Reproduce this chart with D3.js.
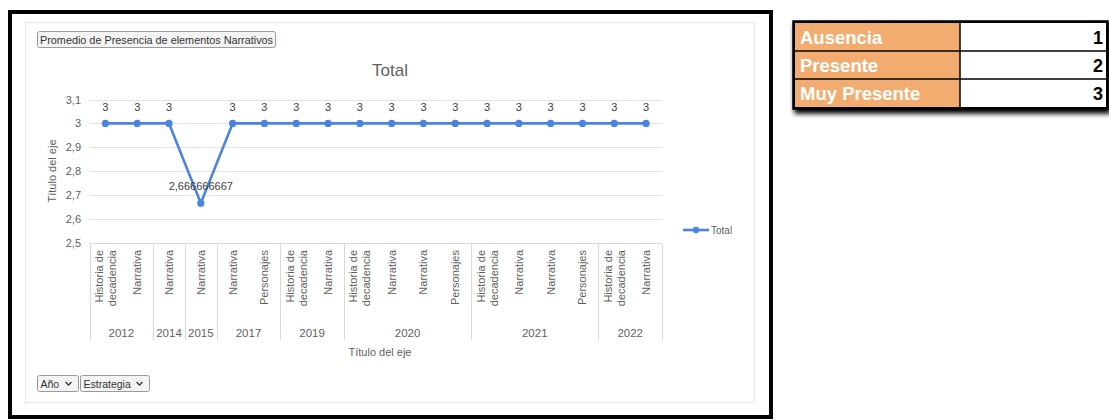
<!DOCTYPE html>
<html>
<head>
<meta charset="utf-8">
<script src="https://cdn.jsdelivr.net/npm/d3@7"></script>
<style>
  html, body { margin: 0; padding: 0; background: #fff; }
  svg { display: block; font-family: "Liberation Sans", Arial, sans-serif; }
</style>
</head>
<body>
<svg id="chart" width="1109" height="420"></svg>
<script>
// ---- data ----
const years = ["2012","2012","2014","2015","2017","2017","2019","2019","2020","2020","2020","2020","2021","2021","2021","2021","2022","2022"];
const categories = ["Historia de decadencia","Narrativa","Narrativa","Narrativa","Narrativa","Personajes","Historia de decadencia","Narrativa","Historia de decadencia","Narrativa","Narrativa","Personajes","Historia de decadencia","Narrativa","Narrativa","Personajes","Historia de decadencia","Narrativa"];
const values = [3,3,3,2.666666667,3,3,3,3,3,3,3,3,3,3,3,3,3,3];
const valueLabels = ["3","3","3","2,666666667","3","3","3","3","3","3","3","3","3","3","3","3","3","3"];
const yTicks = [2.5,2.6,2.7,2.8,2.9,3,3.1];
const yTickLabels = ["2,5","2,6","2,7","2,8","2,9","3","3,1"];
const chartTitle = "Total";
const axisTitleX = "Título del eje";
const axisTitleY = "Título del eje";
const seriesName = "Total";
const pivotField = "Promedio de Presencia de elementos Narrativos";
const filterFields = ["Año","Estrategia"];
const tableLabels = ["Ausencia","Presente","Muy Presente"];
const tableValues = [1,2,3];

// ---- drawing ----
const svg = d3.select("#chart");
const blue = "#4a83e6";
const gray = "#5f5f5f";
const grid = "#e3e3e3";

// outer black frame
svg.append("rect").attr("x", 10).attr("y", 12).attr("width", 761).attr("height", 405)
  .attr("fill", "#fff").attr("stroke", "#000").attr("stroke-width", 4);
// inner chart area
svg.append("rect").attr("x", 25.5).attr("y", 22.5).attr("width", 729).attr("height", 380)
  .attr("fill", "#fff").attr("stroke", "#e6e6e6").attr("stroke-width", 1);

// pivot field button
const btn = svg.append("g");
btn.append("rect").attr("x", 37.5).attr("y", 31.5).attr("width", 238).attr("height", 16).attr("rx", 2)
  .attr("fill", "#f4f4f4").attr("stroke", "#9a9a9a");
btn.append("text").attr("x", 40).attr("y", 43.5).attr("font-size", 10.5).attr("fill", "#333")
  .attr("textLength", 233).attr("lengthAdjust", "spacingAndGlyphs").text(pivotField);

// scales
const x = d3.scaleBand().domain(d3.range(values.length)).range([89.5, 662]);
const y = d3.scaleLinear().domain([2.5, 3.1]).range([243, 99.5]);

// gridlines
svg.append("g").selectAll("line").data(yTicks.slice(1)).join("line")
  .attr("x1", 89.5).attr("x2", 662).attr("y1", d => Math.round(y(d)) + 0.5).attr("y2", d => Math.round(y(d)) + 0.5)
  .attr("stroke", grid);

// y axis labels
const yAxis = d3.axisLeft(y).tickValues(yTicks).tickFormat((d, i) => yTickLabels[i]).tickSize(0).tickPadding(0);
const yg = svg.append("g").attr("transform", "translate(81,0)").call(yAxis);
yg.select(".domain").remove();
yg.selectAll("text").attr("font-size", 11).attr("fill", gray).attr("font-family", "Liberation Sans, Arial, sans-serif");

// y axis title
svg.append("text").attr("transform", "translate(56,171) rotate(-90)").attr("text-anchor", "middle")
  .attr("font-size", 11).attr("fill", gray).text(axisTitleY);

// title
svg.append("text").attr("x", 390).attr("y", 76).attr("text-anchor", "middle")
  .attr("font-size", 17).attr("fill", gray).text(chartTitle);

// category axis frame
const axTop = Math.round(y(2.5)) + 0.5;
const axBottom = 340;
svg.append("line").attr("x1", 89.5).attr("x2", 662).attr("y1", axTop).attr("y2", axTop).attr("stroke", "#d9d9d9");

// year groups
const groups = [];
years.forEach((yr, i) => {
  if (!groups.length || groups[groups.length - 1].year !== yr) groups.push({year: yr, start: i, end: i});
  else groups[groups.length - 1].end = i;
});
const boundaries = [0].concat(groups.map(g => g.end + 1));
svg.append("g").selectAll("line").data(boundaries).join("line")
  .attr("x1", d => Math.round(d === values.length ? x.range()[1] : x(d)) + 0.5)
  .attr("x2", d => Math.round(d === values.length ? x.range()[1] : x(d)) + 0.5)
  .attr("y1", axTop).attr("y2", axBottom).attr("stroke", "#d9d9d9");

// category labels (rotated)
const catG = svg.append("g");
categories.forEach((c, i) => {
  const cx = x(i) + x.bandwidth() / 2;
  const words = c === "Historia de decadencia" ? ["Historia de", "decadencia"] : [c];
  const n = words.length;
  words.forEach((w, k) => {
    const off = (k - (n - 1) / 2) * 13;
    catG.append("text")
      .attr("transform", `translate(${cx + off + 4},250) rotate(-90)`)
      .attr("text-anchor", "end").attr("font-size", 11).attr("fill", gray).text(w);
  });
});

// year labels
svg.append("g").selectAll("text").data(groups).join("text")
  .attr("x", g => (x(g.start) + x(g.end) + x.bandwidth()) / 2)
  .attr("y", 337).attr("text-anchor", "middle").attr("font-size", 11.5).attr("fill", gray)
  .text(g => g.year);

// x axis title
svg.append("text").attr("x", 380).attr("y", 356).attr("text-anchor", "middle")
  .attr("font-size", 11).attr("fill", gray).text(axisTitleX);

// line
const line = d3.line().x((d, i) => x(i) + x.bandwidth() / 2).y(d => y(d));
svg.append("path").datum(values).attr("d", line).attr("fill", "none")
  .attr("stroke", blue).attr("stroke-width", 2.6).attr("stroke-linejoin", "round");
svg.append("g").selectAll("circle").data(values).join("circle")
  .attr("cx", (d, i) => x(i) + x.bandwidth() / 2).attr("cy", d => y(d)).attr("r", 3.6).attr("fill", blue);

// data labels
svg.append("g").selectAll("text").data(values).join("text")
  .attr("x", (d, i) => x(i) + x.bandwidth() / 2)
  .attr("y", (d, i) => y(d) - (i === 3 ? 13 : 12))
  .attr("text-anchor", "middle").attr("font-size", 11).attr("fill", "#404040")
  .text((d, i) => valueLabels[i]);

// legend
const lg = svg.append("g").attr("transform", "translate(683,230)");
lg.append("line").attr("x1", 0).attr("x2", 26).attr("y1", 0).attr("y2", 0).attr("stroke", blue).attr("stroke-width", 2.6);
lg.append("circle").attr("cx", 13).attr("cy", 0).attr("r", 3.2).attr("fill", blue);
lg.append("text").attr("x", 28).attr("y", 3.5).attr("font-size", 10).attr("fill", gray).text(seriesName);

// filter dropdowns
const fw = [41, 69];
let fx = 37.5;
filterFields.forEach((f, i) => {
  const g = svg.append("g");
  g.append("rect").attr("x", fx).attr("y", 375.5).attr("width", fw[i]).attr("height", 16).attr("rx", 2)
    .attr("fill", "#f4f4f4").attr("stroke", "#9a9a9a");
  g.append("text").attr("x", fx + 3).attr("y", 387.5).attr("font-size", 10.5).attr("fill", "#333").text(f);
  const ax = fx + fw[i] - 10;
  g.append("path").attr("d", `M${ax - 3},382 L${ax},385 L${ax + 3},382`).attr("fill", "none")
    .attr("stroke", "#333").attr("stroke-width", 1.3);
  fx += fw[i] + 2;
});

// legend table (right)
const tx = 795, ty = 23, colW = [165, 146], rowH = 28;
const defs = svg.append("defs");
const flt = defs.append("filter").attr("id", "shadow").attr("x", "-5%").attr("y", "-10%").attr("width", "115%").attr("height", "140%");
flt.append("feGaussianBlur").attr("in", "SourceAlpha").attr("stdDeviation", 2.5);
flt.append("feOffset").attr("dx", 2).attr("dy", 4).attr("result", "ob");
const fm = flt.append("feMerge");
fm.append("feMergeNode").attr("in", "ob");
fm.append("feMergeNode").attr("in", "SourceGraphic");
const tg = svg.append("g");
tg.append("rect").attr("x", tx - 1).attr("y", ty - 1).attr("width", colW[0] + colW[1] + 2).attr("height", rowH * 3 + 2)
  .attr("fill", "#fff").attr("stroke", "#000").attr("stroke-width", 3.5).attr("filter", "url(#shadow)");
tableLabels.forEach((t, i) => {
  const ry = ty + i * rowH;
  tg.append("rect").attr("x", tx).attr("y", ry).attr("width", colW[0]).attr("height", rowH).attr("fill", "#f3ac70");
  tg.append("rect").attr("x", tx + colW[0]).attr("y", ry).attr("width", colW[1]).attr("height", rowH).attr("fill", "#fff");
  tg.append("text").attr("x", tx + 5).attr("y", ry + 21).attr("font-size", 18.5).attr("font-weight", "bold")
    .attr("fill", "#fff").text(t);
  tg.append("text").attr("x", tx + colW[0] + colW[1] - 3).attr("y", ry + 21).attr("text-anchor", "end")
    .attr("font-size", 18).attr("font-weight", "bold").attr("fill", "#000").text(tableValues[i]);
  if (i > 0) tg.append("line").attr("x1", tx).attr("x2", tx + colW[0] + colW[1]).attr("y1", ry).attr("y2", ry)
    .attr("stroke", "#000").attr("stroke-width", 1.5);
});
tg.append("line").attr("x1", tx + colW[0]).attr("x2", tx + colW[0]).attr("y1", ty).attr("y2", ty + rowH * 3)
  .attr("stroke", "#000").attr("stroke-width", 1.5);
</script>
</body>
</html>
